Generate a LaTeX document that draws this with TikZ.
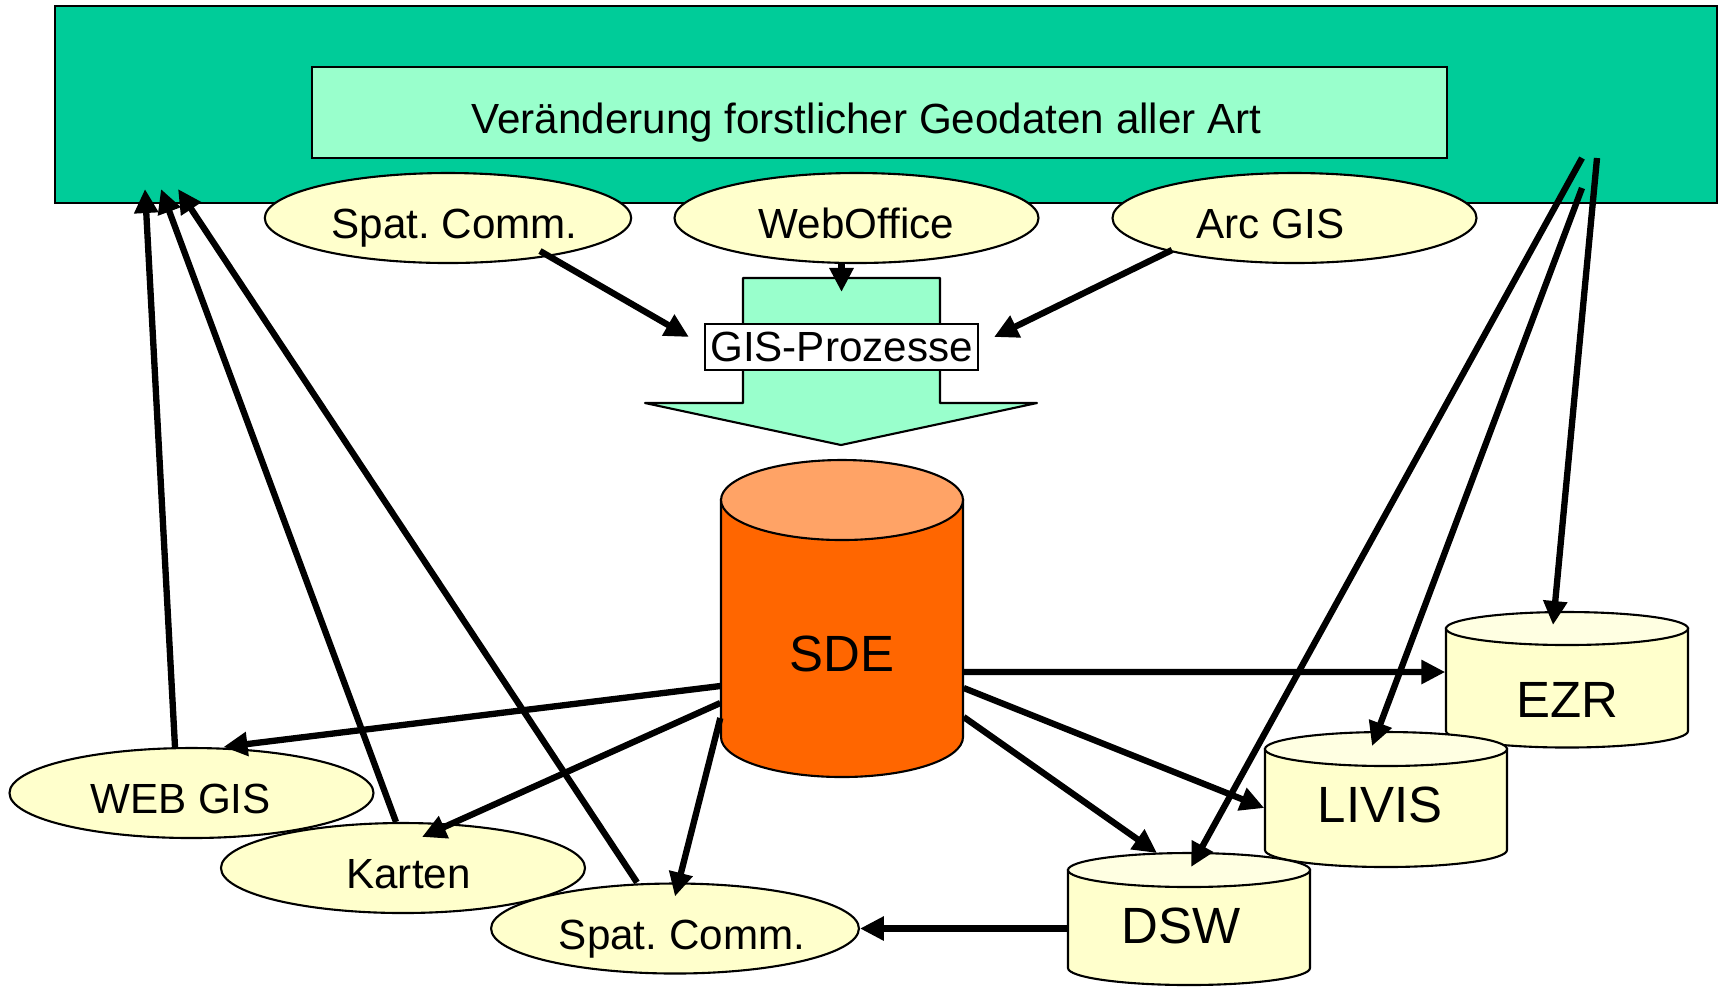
\documentclass[tikz,border=0pt]{standalone}
\usepackage{fontspec}
\setmainfont{Liberation Sans}
\usetikzlibrary{arrows.meta}
\usetikzlibrary{shapes.geometric}
\frenchspacing

\definecolor{framegreen}{HTML}{00CC99}
\definecolor{palegreen}{HTML}{99FFCC}
\definecolor{appfill}{HTML}{FFFFCC}
\definecolor{sdebody}{HTML}{FF6600}
\definecolor{sdetop}{HTML}{FFA366}
\definecolor{dbbody}{HTML}{FFFFCC}
\definecolor{dbtop}{HTML}{FFFFE2}

\tikzset{
	app/.style={ellipse, draw, line width=0.6pt, fill=appfill, minimum width=3.64cm, minimum height=0.90cm, inner sep=0pt, font=\fontsize{12}{14}\selectfont, text height=12pt, text depth=0.25pt},
	dbtext/.style={inner sep=0pt, minimum width=2.42cm, font=\fontsize{14.5}{17}\selectfont},
	flow/.style={-{Triangle[length=2.4mm,width=2.3mm]}, line width=1.8pt},
}

\begin{document}
\begin{tikzpicture}
		\useasboundingbox (0,0) rectangle (17.18,-9.86);
		% frame and title
		\filldraw[fill=framegreen, line width=0.6pt] (0.55,-0.06) rectangle (17.17,-2.03);
		\node[draw, fill=palegreen, line width=0.6pt, minimum width=11.35cm, minimum height=0.91cm, inner sep=0pt, font=\fontsize{12}{14}\selectfont, text height=12pt, text depth=0.25pt] (title) at (8.795,-1.125) {Veränderung forstlicher Geodaten aller Art\hspace*{0.26cm}};
		% block arrow
		\filldraw[fill=palegreen, line width=0.6pt, line join=round] (7.43,-2.78) -- (9.40,-2.78) -- (9.40,-4.03) -- (10.37,-4.03) -- (8.41,-4.45) -- (6.45,-4.03) -- (7.43,-4.03) -- cycle;
		\node[draw, fill=white, line width=0.6pt, minimum width=2.73cm, minimum height=0.46cm, inner sep=0pt, font=\fontsize{12}{14}\selectfont] (gis) at (8.415,-3.47) {GIS-Prozesse};
		\node[app] (spat1) at (4.48,-2.18) {\hspace*{0.13cm}Spat. Comm.};
		\node[app] (weboffice) at (8.565,-2.18) {WebOffice};
		\node[app] (arcgis) at (12.945,-2.18) {Arc GIS\hspace*{0.48cm}};
		% cylinders
		\filldraw[fill=sdebody, line width=0.6pt] (7.21,-5.00) -- (7.21,-7.37) arc[start angle=180, end angle=360, x radius=1.21, y radius=0.40] -- (9.63,-5.00) -- cycle;
		\filldraw[fill=sdetop, line width=0.6pt] (8.42,-5.00) ellipse [x radius=1.21, y radius=0.40];
		\node[dbtext] (sde) at (8.42,-6.54) {SDE};
		\filldraw[fill=dbbody, line width=0.6pt] (14.46,-6.285) -- (14.46,-7.31) arc[start angle=180, end angle=360, x radius=1.21, y radius=0.165] -- (16.88,-6.285) -- cycle;
		\filldraw[fill=dbtop, line width=0.6pt] (15.67,-6.285) ellipse [x radius=1.21, y radius=0.165];
		\node[dbtext] (ezr) at (15.67,-7.00) {EZR};
		\filldraw[fill=dbbody, line width=0.6pt] (12.65,-7.49) -- (12.65,-8.50) arc[start angle=180, end angle=360, x radius=1.21, y radius=0.17] -- (15.07,-7.49) -- cycle;
		\filldraw[fill=dbtop, line width=0.6pt] (13.86,-7.49) ellipse [x radius=1.21, y radius=0.17];
		\node[dbtext] (livis) at (13.86,-8.05) {LIVIS\hspace*{0.12cm}};
		\filldraw[fill=dbbody, line width=0.6pt] (10.68,-8.70) -- (10.68,-9.68) arc[start angle=180, end angle=360, x radius=1.21, y radius=0.17] -- (13.10,-8.70) -- cycle;
		\filldraw[fill=dbtop, line width=0.6pt] (11.89,-8.70) ellipse [x radius=1.21, y radius=0.17];
		\node[dbtext] (dsw) at (11.89,-9.26) {DSW\hspace*{0.16cm}};
		% clients
		\node[app] (webgis) at (1.915,-7.93) {WEB GIS\hspace*{0.22cm}};
		\node[app] (karten) at (4.03,-8.68) {\hspace*{0.11cm}Karten};
		\node[app] (spat2) at (6.75,-9.285) {\hspace*{0.14cm}Spat. Comm.};
		% ends inside the frame
		\coordinate (up1) at (1.45,-1.89);
		\coordinate (up2) at (1.61,-1.89);
		\coordinate (up3) at (1.78,-1.89);
		\coordinate (down1) at (15.82,-1.58);
		\coordinate (down2) at (15.82,-1.88);
		\coordinate (down3) at (15.97,-1.58);
		% into the GIS processes
		\draw[flow] ([shift={(0.92,-0.33)}]spat1.center) -- ([shift={(-0.15,0.10)}]gis.west);
		\draw[flow] (weboffice.south -| gis.north) -- ([yshift=0.31cm]gis.north);
		\draw[flow] ([shift={(-1.225,-0.32)}]arcgis.center) -- ([shift={(0.15,0.10)}]gis.east);
		% out of SDE
		\draw[flow] ([yshift=-0.18cm]sde.east) -- ([yshift=0.28cm]ezr.west);
		\draw[flow] ([yshift=-0.34cm]sde.east) -- ([yshift=-0.03cm]livis.west);
		\draw[flow] ([yshift=-0.63cm]sde.east) -- ([shift={(-0.32,0.73)}]dsw.center);
		\draw[flow] ([yshift=-0.32cm]sde.west) -- ([xshift=0.32cm]webgis.north);
		\draw[flow] ([yshift=-0.49cm]sde.west) -- ([shift={(0.19,-0.15)}]karten.north);
		\draw[flow] ([yshift=-0.64cm]sde.west) -- ([yshift=-0.14cm]spat2.north);
		\draw[flow] (dsw.west |- spat2.east) -- (spat2.east);
		% back to the frame
		\draw[flow] ([xshift=-0.165cm]webgis.north) -- (up1);
		\draw[flow] ([xshift=-0.07cm]karten.north) -- (up2);
		\draw[flow] ([xshift=-0.38cm]spat2.north) -- (up3);
		\draw[flow] (down1) -- ([shift={(0.02,0.59)}]dsw.center);
		\draw[flow] (down2) -- ([shift={(-0.14,0.59)}]livis.center);
		\draw[flow] (down3) -- ([shift={(-0.14,0.75)}]ezr.center);
	\end{tikzpicture}
\end{document}
